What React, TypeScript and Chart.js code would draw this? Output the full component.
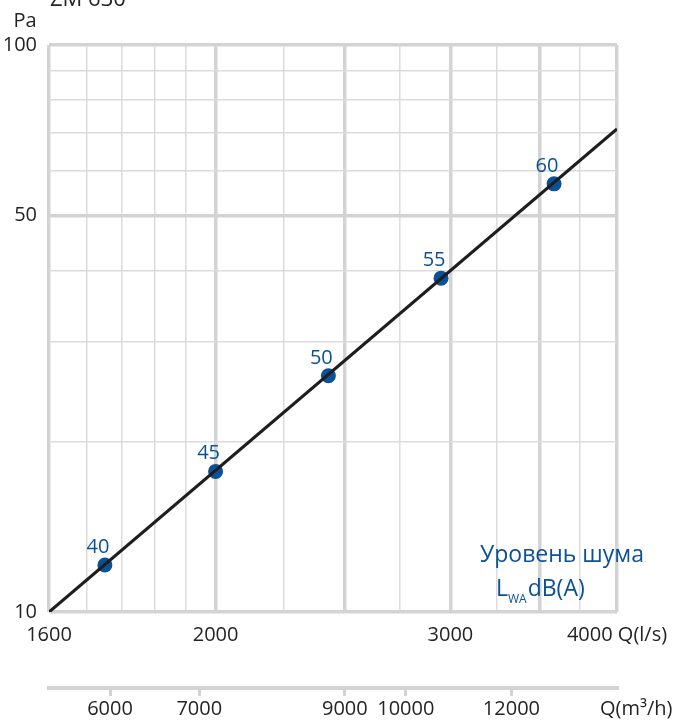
import React, { useEffect, useRef } from 'react';
import { Chart, registerables } from 'chart.js';

Chart.register(...registerables);

// ---- data ----
const xGridValues = [1500, 1600, 1700, 1800, 1900, 2000, 2250, 2500, 2750, 3000, 3250, 3500, 3750, 4000];
const xMajorValues = [1500, 2000, 2500, 3000, 3500, 4000];
const xTickValues = [1500, 2000, 3000, 4000];
const xTickLabels = ['1600', '2000', '3000', '4000 Q(l/s)'];

const yGridValues = [10, 20, 30, 40, 50, 60, 70, 80, 90, 100];
const yMajorValues = [10, 50, 100];
const yTickValues = [10, 50, 100];
const yTickLabels = ['10', '50', '100'];

const x2TickValues = [6000, 7000, 9000, 10000, 12000];
const x2TickLabels = ['6000', '7000', '9000', '10000', '12000'];

const curveQ = [1500, 4000];
const curveP = [10, 71.1];

const noiseQ = [1652, 2000, 2430, 2952, 3588];
const noiseP = [12.1, 17.7, 26.1, 38.8, 56.9];
const noiseLevels = ['40', '45', '50', '55', '60'];

const FONT = "'Open Sans', 'Noto Sans', sans-serif";
const BLUE = '#0a5196';
const TEXT = '#262324';
const GRID_MAJOR = '#d3d3d3';
const GRID_MINOR = '#dcdcdc';

const annotations = {
  id: 'annotations',
  afterDatasetsDraw(chart: any) {
    const ctx = chart.ctx;
    const xs = chart.scales.x;
    const ys = chart.scales.y;
    const area = chart.chartArea;
    ctx.save();
    // point labels
    ctx.fillStyle = BLUE;
    ctx.font = `20px ${FONT}`;
    ctx.textAlign = 'center';
    ctx.textBaseline = 'alphabetic';
    noiseQ.forEach((q, i) => {
      const px = xs.getPixelForValue(q);
      const py = ys.getPixelForValue(noiseP[i]);
      ctx.fillText(noiseLevels[i], px - 7, py - 12);
    });
    // note
    ctx.font = `23px ${FONT}`;
    ctx.textAlign = 'center';
    ctx.fillText('Уровень шума', area.right - 55, area.bottom - 50);
    ctx.textAlign = 'left';
    let lx = area.right - 121;
    const lb = area.bottom - 16;
    ctx.fillText('L', lx, lb);
    lx += ctx.measureText('L').width;
    ctx.font = `12px ${FONT}`;
    ctx.fillText('WA', lx, lb + 7);
    lx += ctx.measureText('WA').width + 1;
    ctx.font = `23px ${FONT}`;
    ctx.fillText('dB(A)', lx, lb);
    // axis names and title
    ctx.fillStyle = TEXT;
    ctx.font = `20px ${FONT}`;
    ctx.textAlign = 'center';
    ctx.fillText('Pa', area.left - 24, area.top - 18);
    ctx.textAlign = 'left';
    ctx.fillText('Q(m³/h)', area.right - 17, 715);
    ctx.font = `22px ${FONT}`;
    ctx.fillText('ZM 630', area.left + 1, 6);
    ctx.restore();
  },
};

export default function App() {
  const ref = useRef<HTMLCanvasElement | null>(null);

  useEffect(() => {
    if (!ref.current) return;
    const isMajor = (arr: number[], v: number) => arr.some((m) => Math.abs(m - v) < 1e-6);
    const chart = new Chart(ref.current, {
      type: 'scatter',
      data: {
        datasets: [
          {
            data: curveQ.map((q, i) => ({ x: q, y: curveP[i] })),
            showLine: true,
            borderColor: '#1f1d1e',
            borderWidth: 3.2,
            pointRadius: 0,
            xAxisID: 'x',
            yAxisID: 'y',
          },
          {
            data: noiseQ.map((q, i) => ({ x: q, y: noiseP[i] })),
            showLine: false,
            pointRadius: 7.5,
            pointBackgroundColor: BLUE,
            pointBorderWidth: 0,
            xAxisID: 'x',
            yAxisID: 'y',
          },
        ],
      },
      options: {
        animation: false,
        responsive: true,
        maintainAspectRatio: false,
        layout: { padding: { top: 45, right: 59, bottom: 0, left: 0 } },
        plugins: { legend: { display: false }, tooltip: { enabled: false } },
        scales: {
          x: {
            type: 'logarithmic',
            position: 'bottom',
            weight: 0,
            min: 1500,
            max: 4000,
            afterBuildTicks: (s: any) => {
              s.ticks = xGridValues.map((v) => ({ value: v }));
            },
            afterFit: (s: any) => {
              s.height = 76;
              s.paddingLeft = 0;
              s.paddingRight = 0;
            },
            grid: {
              color: (c: any) => (isMajor(xMajorValues, c.tick?.value) ? GRID_MAJOR : GRID_MINOR),
              lineWidth: (c: any) => (isMajor(xMajorValues, c.tick?.value) ? 3.5 : 1.5),
              drawTicks: false,
            },
            border: { display: false },
            ticks: {
              autoSkip: false,
              maxRotation: 0,
              padding: 11,
              color: TEXT,
              font: { family: FONT, size: 20 },
              callback: (v: any) => {
                const i = xTickValues.indexOf(Number(v));
                return i >= 0 ? xTickLabels[i] : '';
              },
            },
          },
          x2: {
            type: 'logarithmic',
            position: 'bottom',
            weight: 1,
            min: 5400,
            max: 14400,
            afterBuildTicks: (s: any) => {
              s.ticks = x2TickValues.map((v) => ({ value: v }));
            },
            afterFit: (s: any) => {
              s.height = 34;
              s.paddingLeft = 0;
              s.paddingRight = 0;
            },
            grid: {
              drawOnChartArea: false,
              drawTicks: true,
              tickLength: 8,
              color: GRID_MAJOR,
              lineWidth: 3,
            },
            border: { display: true, color: GRID_MAJOR, width: 4 },
            ticks: {
              autoSkip: false,
              maxRotation: 0,
              padding: 1,
              color: TEXT,
              font: { family: FONT, size: 20 },
              callback: (v: any) => {
                const i = x2TickValues.indexOf(Number(v));
                return i >= 0 ? x2TickLabels[i] : '';
              },
            },
          },
          y: {
            type: 'logarithmic',
            position: 'left',
            min: 10,
            max: 100,
            afterBuildTicks: (s: any) => {
              s.ticks = yGridValues.map((v) => ({ value: v }));
            },
            afterFit: (s: any) => {
              s.width = 49;
            },
            grid: {
              color: (c: any) => (isMajor(yMajorValues, c.tick?.value) ? GRID_MAJOR : GRID_MINOR),
              lineWidth: (c: any) => (isMajor(yMajorValues, c.tick?.value) ? 3.5 : 1.5),
              drawTicks: false,
            },
            border: { display: false },
            ticks: {
              autoSkip: false,
              padding: 12,
              color: TEXT,
              font: { family: FONT, size: 20 },
              callback: (v: any) => {
                const i = yTickValues.indexOf(Number(v));
                return i >= 0 ? yTickLabels[i] : '';
              },
            },
          },
        },
      } as any,
      plugins: [annotations],
    });
    return () => chart.destroy();
  }, []);

  return (
    <div style={{ position: 'absolute', left: 0, top: 0, width: 676, height: 722, background: '#fff' }}>
      <canvas ref={ref} />
    </div>
  );
}
